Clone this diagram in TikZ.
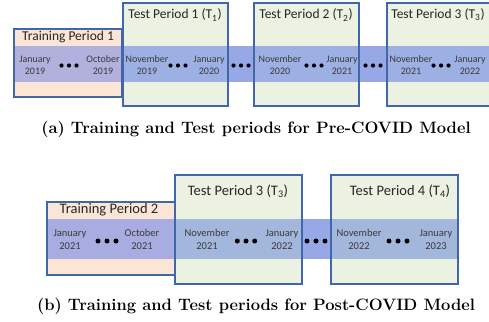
\documentclass[tikz,border=0pt]{standalone}
\usepackage{fontspec}
\newfontfamily\calfont{Carlito}
\definecolor{peach}{HTML}{FBE5D6}
\definecolor{testg}{HTML}{EBF2E2}
\definecolor{bandc}{HTML}{96A9E6}
\definecolor{ovtrA}{HTML}{B2B0DC}
\definecolor{ovteA}{HTML}{9CB0E4}
\definecolor{ovtrB}{HTML}{A8ACE0}
\definecolor{ovteB}{HTML}{A3B6DC}
\definecolor{bord}{HTML}{4267A8}
\definecolor{dtxt}{HTML}{3A3A3A}
\definecolor{ttxt}{HTML}{262626}
\tikzset{
  box/.style={draw=none, anchor=north west, inner sep=0pt, outer sep=0pt},
  frame/.style={draw=bord, line width=1.1pt},
  ttlA/.style={font=\calfont\fontsize{13.5}{16}\selectfont, text=ttxt, inner sep=0pt},
  ttlB/.style={font=\calfont\fontsize{14.5}{17}\selectfont, text=ttxt, inner sep=0pt},
  btxtA/.style={font=\calfont\fontsize{10}{12}\selectfont, text=dtxt, align=center, inner sep=0pt},
  btxtB/.style={font=\calfont\fontsize{10.5}{13}\selectfont, text=dtxt, align=center, inner sep=0pt},
  captxt/.style={font=\bfseries\fontsize{16.5}{19}\selectfont, text=black, inner sep=0pt},
}
\newcommand\tdots[4]{\foreach \k in {-1,0,1} {\fill[black] ({#1+\k*#3},#2) circle[radius=#4pt];}}
\begin{document}
\begin{tikzpicture}[x=1pt,y=-1pt]
\useasboundingbox[fill=white] (0,0) rectangle (489,321);
% ---------- panel (a)
\node[box, fill=peach, minimum width=108, minimum height=68] (tra) at (14,29) {};
\node[box, fill=testg, minimum width=105, minimum height=103] (te1) at (123,3) {};
\node[box, fill=testg, minimum width=105, minimum height=103] (te2) at (254,3) {};
\node[box, fill=testg, minimum width=104, minimum height=103] (te3) at (387,3) {};
\node[box, fill=bandc, minimum width=476, minimum height=36] (banda) at (14,46) {};
\fill[ovtrA] (tra.west |- banda.north) rectangle (tra.east |- banda.south);
\foreach \n in {te1,te2,te3} {\fill[ovteA] (\n.west |- banda.north) rectangle (\n.east |- banda.south);}
\foreach \n in {tra,te1,te2,te3} {\draw[frame] (\n.north west) rectangle (\n.south east);}
\node[ttlA] (ltra) at (68,37) {Training Period 1};
\node[ttlA] (lte1) at (175,15) {Test Period 1 (T\textsubscript{1})};
\node[ttlA] (lte2) at (306,15) {Test Period 2 (T\textsubscript{2})};
\node[ttlA] (lte3) at (438,15) {Test Period 3 (T\textsubscript{3})};
\node[btxtA] (a1) at (35,65) {January\\2019};
\node[btxtA] (a2) at (103,65) {October\\2019};
\node[btxtA] (a3) at (147,65) {November\\2019};
\node[btxtA] (a4) at (209,65) {January\\2020};
\node[btxtA] (a5) at (280,65) {November\\2020};
\node[btxtA] (a6) at (342,65) {January\\2021};
\node[btxtA] (a7) at (411,65) {November\\2021};
\node[btxtA] (a8) at (470,65) {January\\2022};
\tdots{69}{65.5}{7.5}{2.1}
\tdots{178}{65.5}{7.5}{2.1}
\tdots{241}{65.5}{7.5}{2.1}
\tdots{314}{65.5}{7.5}{2.1}
\tdots{373}{65.5}{7.5}{2.1}
\tdots{441}{65.5}{7.5}{2.1}
\node[captxt] (capa) at (256,129) {(a) Training and Test periods for Pre-COVID Model};
% ---------- panel (b)
\node[box, fill=peach, minimum width=128, minimum height=73] (trb) at (47,202) {};
\node[box, fill=testg, minimum width=127, minimum height=109] (tb3) at (175,175) {};
\node[box, fill=testg, minimum width=127, minimum height=109] (tb4) at (331,175) {};
\node[box, fill=bandc, minimum width=411, minimum height=40] (bandb) at (47,219) {};
\fill[ovtrB] (trb.west |- bandb.north) rectangle (trb.east |- bandb.south);
\foreach \n in {tb3,tb4} {\fill[ovteB] (\n.west |- bandb.north) rectangle (\n.east |- bandb.south);}
\foreach \n in {trb,tb3,tb4} {\draw[frame] (\n.north west) rectangle (\n.south east);}
\node[ttlB] (ltrb) at (109,210) {Training Period 2};
\node[ttlB] (ltb3) at (238,191) {Test Period 3 (T\textsubscript{3})};
\node[ttlB] (ltb4) at (400,191) {Test Period 4 (T\textsubscript{4})};
\node[btxtB] (b1) at (70,239.5) {January\\2021};
\node[btxtB] (b2) at (142,239.5) {October\\2021};
\node[btxtB] (b3) at (207,239.5) {November\\2021};
\node[btxtB] (b4) at (282,239.5) {January\\2022};
\node[btxtB] (b5) at (359,239.5) {November\\2022};
\node[btxtB] (b6) at (436,239.5) {January\\2023};
\tdots{107}{241}{9}{2.5}
\tdots{246}{241}{8.7}{2.5}
\tdots{316}{241}{9}{2.5}
\tdots{398}{241}{9}{2.5}
\node[captxt] (capb) at (256,306) {(b) Training and Test periods for Post-COVID Model};
\end{tikzpicture}
\end{document}
